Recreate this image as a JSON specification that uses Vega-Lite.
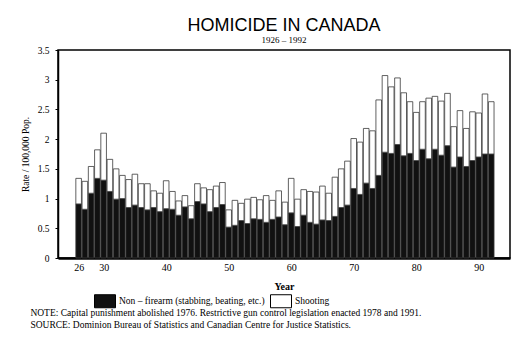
{
  "$schema": "https://vega.github.io/schema/vega-lite/v6.json",
  "padding": {"left": 19, "top": 16, "right": 10, "bottom": 10},
  "background": "white",
  "title": {
    "text": ["NOTE: Capital punishment abolished 1976. Restrictive gun control legislation enacted 1978 and 1991.", "SOURCE: Dominion Bureau of Statistics and Canadian Centre for Justice Statistics."],
    "orient": "bottom",
    "anchor": "start",
    "frame": "bounds",
    "dx": 11,
    "offset": -2,
    "font": "Liberation Serif",
    "fontSize": 9.5,
    "fontWeight": "normal",
    "color": "#000",
    "lineHeight": 12
  },
  "vconcat": [
    {
      "title": {
        "text": "HOMICIDE IN CANADA",
        "subtitle": "1926 – 1992",
        "anchor": "middle",
        "font": "Liberation Sans",
        "fontSize": 18,
        "fontWeight": "normal",
        "color": "#000",
        "subtitleFont": "Liberation Serif",
        "subtitleFontSize": 9,
        "subtitleColor": "#000",
        "subtitlePadding": 1,
        "offset": 0
      },
      "width": 452,
      "height": 208,
      "data": {
        "values": [
          {"year": 1926, "nonfirearm": 0.91, "shooting": 0.43},
          {"year": 1927, "nonfirearm": 0.82, "shooting": 0.47},
          {"year": 1928, "nonfirearm": 1.09, "shooting": 0.45},
          {"year": 1929, "nonfirearm": 1.34, "shooting": 0.48},
          {"year": 1930, "nonfirearm": 1.31, "shooting": 0.79},
          {"year": 1931, "nonfirearm": 1.12, "shooting": 0.54},
          {"year": 1932, "nonfirearm": 0.99, "shooting": 0.51},
          {"year": 1933, "nonfirearm": 1.00, "shooting": 0.39},
          {"year": 1934, "nonfirearm": 0.85, "shooting": 0.47},
          {"year": 1935, "nonfirearm": 0.89, "shooting": 0.52},
          {"year": 1936, "nonfirearm": 0.85, "shooting": 0.40},
          {"year": 1937, "nonfirearm": 0.81, "shooting": 0.44},
          {"year": 1938, "nonfirearm": 0.85, "shooting": 0.28},
          {"year": 1939, "nonfirearm": 0.78, "shooting": 0.31},
          {"year": 1940, "nonfirearm": 0.83, "shooting": 0.47},
          {"year": 1941, "nonfirearm": 0.82, "shooting": 0.30},
          {"year": 1942, "nonfirearm": 0.72, "shooting": 0.24},
          {"year": 1943, "nonfirearm": 0.86, "shooting": 0.19},
          {"year": 1944, "nonfirearm": 0.66, "shooting": 0.22},
          {"year": 1945, "nonfirearm": 0.95, "shooting": 0.30},
          {"year": 1946, "nonfirearm": 0.91, "shooting": 0.27},
          {"year": 1947, "nonfirearm": 0.78, "shooting": 0.37},
          {"year": 1948, "nonfirearm": 0.85, "shooting": 0.36},
          {"year": 1949, "nonfirearm": 0.90, "shooting": 0.37},
          {"year": 1950, "nonfirearm": 0.52, "shooting": 0.29},
          {"year": 1951, "nonfirearm": 0.55, "shooting": 0.42},
          {"year": 1952, "nonfirearm": 0.63, "shooting": 0.29},
          {"year": 1953, "nonfirearm": 0.58, "shooting": 0.41},
          {"year": 1954, "nonfirearm": 0.66, "shooting": 0.36},
          {"year": 1955, "nonfirearm": 0.65, "shooting": 0.33},
          {"year": 1956, "nonfirearm": 0.60, "shooting": 0.45},
          {"year": 1957, "nonfirearm": 0.65, "shooting": 0.32},
          {"year": 1958, "nonfirearm": 0.69, "shooting": 0.44},
          {"year": 1959, "nonfirearm": 0.56, "shooting": 0.38},
          {"year": 1960, "nonfirearm": 0.76, "shooting": 0.58},
          {"year": 1961, "nonfirearm": 0.53, "shooting": 0.46},
          {"year": 1962, "nonfirearm": 0.72, "shooting": 0.43},
          {"year": 1963, "nonfirearm": 0.60, "shooting": 0.52},
          {"year": 1964, "nonfirearm": 0.57, "shooting": 0.54},
          {"year": 1965, "nonfirearm": 0.64, "shooting": 0.57},
          {"year": 1966, "nonfirearm": 0.63, "shooting": 0.46},
          {"year": 1967, "nonfirearm": 0.70, "shooting": 0.66},
          {"year": 1968, "nonfirearm": 0.85, "shooting": 0.65},
          {"year": 1969, "nonfirearm": 0.89, "shooting": 0.74},
          {"year": 1970, "nonfirearm": 1.17, "shooting": 0.84},
          {"year": 1971, "nonfirearm": 1.07, "shooting": 0.88},
          {"year": 1972, "nonfirearm": 1.26, "shooting": 0.92},
          {"year": 1973, "nonfirearm": 1.17, "shooting": 0.97},
          {"year": 1974, "nonfirearm": 1.39, "shooting": 1.27},
          {"year": 1975, "nonfirearm": 1.78, "shooting": 1.29},
          {"year": 1976, "nonfirearm": 1.76, "shooting": 1.12},
          {"year": 1977, "nonfirearm": 1.91, "shooting": 1.12},
          {"year": 1978, "nonfirearm": 1.72, "shooting": 1.06},
          {"year": 1979, "nonfirearm": 1.76, "shooting": 0.87},
          {"year": 1980, "nonfirearm": 1.64, "shooting": 0.81},
          {"year": 1981, "nonfirearm": 1.83, "shooting": 0.80},
          {"year": 1982, "nonfirearm": 1.67, "shooting": 1.02},
          {"year": 1983, "nonfirearm": 1.83, "shooting": 0.89},
          {"year": 1984, "nonfirearm": 1.73, "shooting": 0.91},
          {"year": 1985, "nonfirearm": 1.89, "shooting": 0.88},
          {"year": 1986, "nonfirearm": 1.53, "shooting": 0.68},
          {"year": 1987, "nonfirearm": 1.70, "shooting": 0.78},
          {"year": 1988, "nonfirearm": 1.54, "shooting": 0.64},
          {"year": 1989, "nonfirearm": 1.64, "shooting": 0.82},
          {"year": 1990, "nonfirearm": 1.70, "shooting": 0.74},
          {"year": 1991, "nonfirearm": 1.75, "shooting": 1.01},
          {"year": 1992, "nonfirearm": 1.75, "shooting": 0.88}
        ]
      },
      "transform": [
        {"fold": ["nonfirearm", "shooting"], "as": ["type", "rate"]}
      ],
      "mark": {"type": "bar", "width": 5.6, "stroke": "#3a3a3a", "strokeWidth": 0.8},
      "encoding": {
        "x": {
          "field": "year",
          "type": "quantitative",
          "scale": {"domain": [1923.5, 1994.2], "nice": false, "zero": false},
          "axis": {
            "values": [1926, 1930, 1940, 1950, 1960, 1970, 1980, 1990],
            "labelExpr": "format(datum.value % 100, 'd')",
            "title": "Year",
            "grid": false,
            "ticks": false,
            "labelPadding": 4,
            "domainColor": "#000",
            "domainWidth": 2.5,
            "labelFont": "Liberation Serif",
            "labelFontSize": 10,
            "labelColor": "#000",
            "titleFont": "Liberation Serif",
            "titleFontSize": 10,
            "titleFontWeight": "bold",
            "titleColor": "#000",
            "titlePadding": 9
          }
        },
        "y": {
          "field": "rate",
          "type": "quantitative",
          "stack": "zero",
          "scale": {"domain": [0, 3.5], "nice": false},
          "axis": {
            "values": [0, 0.5, 1, 1.5, 2, 2.5, 3, 3.5],
            "format": "~g",
            "title": "Rate / 100,000 Pop.",
            "grid": false,
            "tickSize": 3,
            "tickColor": "#000",
            "labelPadding": 6,
            "domainColor": "#000",
            "domainWidth": 1.5,
            "labelFont": "Liberation Serif",
            "labelFontSize": 9.5,
            "labelColor": "#000",
            "titleFont": "Liberation Serif",
            "titleFontSize": 9.5,
            "titleFontWeight": "normal",
            "titleColor": "#000",
            "titlePadding": 7
          }
        },
        "color": {
          "field": "type",
          "type": "nominal",
          "scale": {"domain": ["nonfirearm", "shooting"], "range": ["#111111", "#ffffff"]},
          "legend": {
            "title": null,
            "orient": "none",
            "legendX": 36,
            "legendY": 240,
            "direction": "horizontal",
            "padding": 0,
            "symbolType": "M-1,-0.62H1V0.62H-1Z",
            "symbolSize": 441,
            "symbolStrokeColor": "#000",
            "symbolStrokeWidth": 1,
            "symbolOpacity": 1,
            "labelFont": "Liberation Serif",
            "labelFontSize": 9.5,
            "labelColor": "#000",
            "labelOffset": 3,
            "labelLimit": 300,
            "columnPadding": 3,
            "labelExpr": "datum.label == 'nonfirearm' ? 'Non – firearm (stabbing, beating, etc.)' : 'Shooting'"
          }
        },
        "order": {"field": "type", "sort": "ascending"}
      }
    }
  ],
  "config": {
    "view": {"stroke": "#000", "strokeWidth": 1.5}
  }
}
